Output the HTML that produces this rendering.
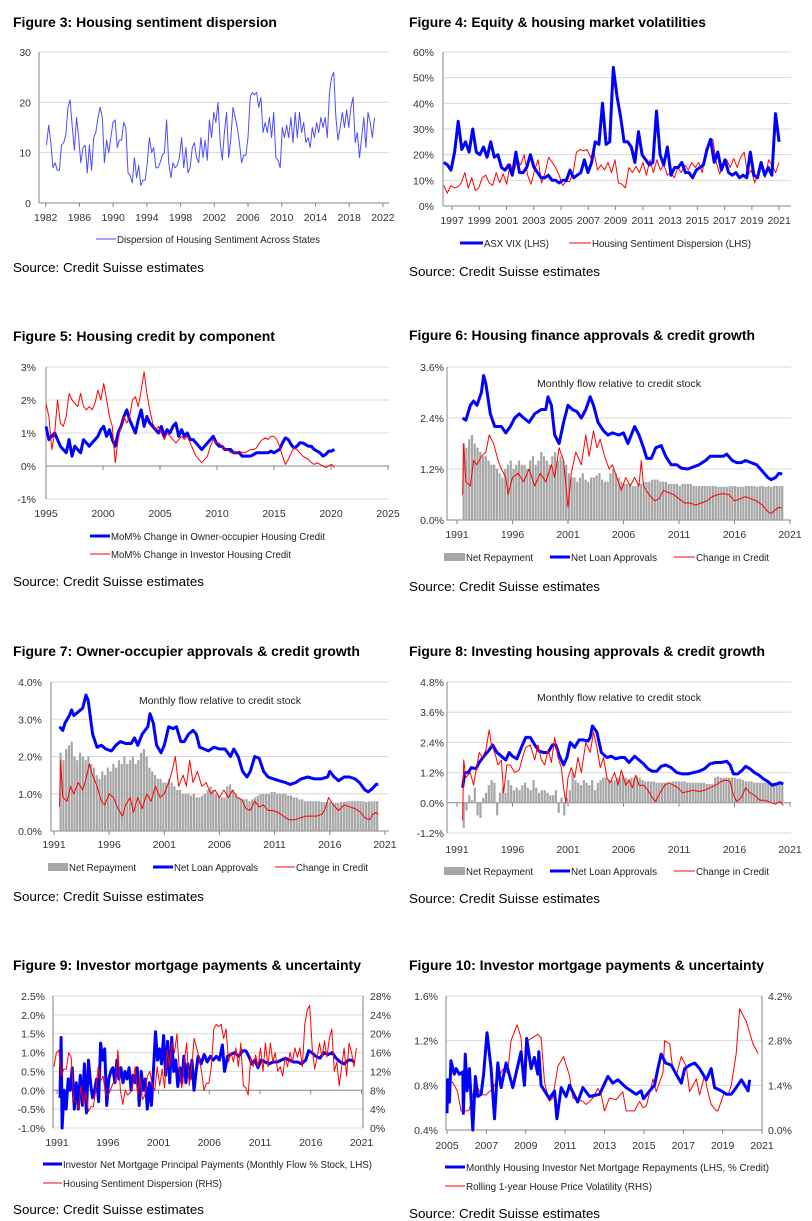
<!DOCTYPE html>
<html><head><meta charset="utf-8">
<style>
html,body{margin:0;padding:0;background:#fff;}
svg{display:block;font-family:"Liberation Sans",Arial,sans-serif;}
.t{font-weight:bold;font-size:14px;fill:#000;}
.s{font-size:13px;fill:#000;}
.lg{font-size:10.5px;fill:#222;}
.an{font-size:10.5px;fill:#222;}
.ax{font-size:10.5px;fill:#333;}
</style></head>
<body>
<svg id="page" width="812" height="1221" viewBox="0 0 812 1221" xmlns="http://www.w3.org/2000/svg">
<rect width="812" height="1221" fill="#fff"/>
<!-- titles -->
<text class="t" x="13" y="27" textLength="264" lengthAdjust="spacingAndGlyphs">Figure 3: Housing sentiment dispersion</text>
<text class="t" x="409" y="27" textLength="297" lengthAdjust="spacingAndGlyphs">Figure 4: Equity &amp; housing market volatilities</text>
<text class="t" x="13" y="341" textLength="262" lengthAdjust="spacingAndGlyphs">Figure 5: Housing credit by component</text>
<text class="t" x="409" y="340" textLength="346" lengthAdjust="spacingAndGlyphs">Figure 6: Housing finance approvals &amp; credit growth</text>
<text class="t" x="13" y="656" textLength="347" lengthAdjust="spacingAndGlyphs">Figure 7: Owner-occupier approvals &amp; credit growth</text>
<text class="t" x="409" y="656" textLength="356" lengthAdjust="spacingAndGlyphs">Figure 8: Investing housing approvals &amp; credit growth</text>
<text class="t" x="13" y="970" textLength="348" lengthAdjust="spacingAndGlyphs">Figure 9: Investor mortgage payments &amp; uncertainty</text>
<text class="t" x="409" y="970" textLength="355" lengthAdjust="spacingAndGlyphs">Figure 10: Investor mortgage payments &amp; uncertainty</text>
<!-- sources -->
<text class="s" x="13" y="272" textLength="191" lengthAdjust="spacingAndGlyphs">Source: Credit Suisse estimates</text>
<text class="s" x="409" y="276" textLength="191" lengthAdjust="spacingAndGlyphs">Source: Credit Suisse estimates</text>
<text class="s" x="13" y="586" textLength="191" lengthAdjust="spacingAndGlyphs">Source: Credit Suisse estimates</text>
<text class="s" x="409" y="591" textLength="191" lengthAdjust="spacingAndGlyphs">Source: Credit Suisse estimates</text>
<text class="s" x="13" y="901" textLength="191" lengthAdjust="spacingAndGlyphs">Source: Credit Suisse estimates</text>
<text class="s" x="409" y="903" textLength="191" lengthAdjust="spacingAndGlyphs">Source: Credit Suisse estimates</text>
<text class="s" x="13" y="1214" textLength="191" lengthAdjust="spacingAndGlyphs">Source: Credit Suisse estimates</text>
<text class="s" x="409" y="1218" textLength="191" lengthAdjust="spacingAndGlyphs">Source: Credit Suisse estimates</text>
<!-- annotations -->
<text class="an" x="537" y="387" textLength="164" lengthAdjust="spacingAndGlyphs">Monthly flow relative to credit stock</text>
<text class="an" x="139" y="704" textLength="162" lengthAdjust="spacingAndGlyphs">Monthly flow relative to credit stock</text>
<text class="an" x="537" y="701" textLength="164" lengthAdjust="spacingAndGlyphs">Monthly flow relative to credit stock</text>
<!-- legends -->
<g>
<line x1="96" y1="239" x2="116" y2="239" stroke="#4d4dff" stroke-width="1"/>
<text class="lg" x="117" y="243" textLength="203" lengthAdjust="spacingAndGlyphs">Dispersion of Housing Sentiment Across States</text></g>
<g>
<line x1="460" y1="243" x2="483" y2="243" stroke="#0000ff" stroke-width="3"/>
<text class="lg" x="484" y="247" textLength="65" lengthAdjust="spacingAndGlyphs">ASX VIX (LHS)</text>
<line x1="569" y1="243" x2="591" y2="243" stroke="#ff0000" stroke-width="1"/>
<text class="lg" x="592" y="247" textLength="159" lengthAdjust="spacingAndGlyphs">Housing Sentiment Dispersion (LHS)</text></g>
<g>
<line x1="90" y1="536" x2="110" y2="536" stroke="#0000ff" stroke-width="3"/>
<text class="lg" x="111" y="540" textLength="214" lengthAdjust="spacingAndGlyphs">MoM% Change in Owner-occupier Housing Credit</text>
<line x1="90" y1="554" x2="110" y2="554" stroke="#ff0000" stroke-width="1"/>
<text class="lg" x="111" y="558" textLength="180" lengthAdjust="spacingAndGlyphs">MoM% Change in Investor Housing Credit</text></g>
<g>
<rect x="444" y="553" width="21" height="8" fill="#a6a6a6"/>
<text class="lg" x="466" y="561" textLength="67" lengthAdjust="spacingAndGlyphs">Net Repayment</text>
<line x1="550" y1="557" x2="570" y2="557" stroke="#0000ff" stroke-width="3"/>
<text class="lg" x="571" y="561" textLength="86" lengthAdjust="spacingAndGlyphs">Net Loan Approvals</text>
<line x1="674" y1="557" x2="695" y2="557" stroke="#ff0000" stroke-width="1"/>
<text class="lg" x="696" y="561" textLength="73" lengthAdjust="spacingAndGlyphs">Change in Credit</text></g>
<g>
<rect x="48" y="863" width="20" height="8" fill="#a6a6a6"/>
<text class="lg" x="69" y="871" textLength="67" lengthAdjust="spacingAndGlyphs">Net Repayment</text>
<line x1="153" y1="867" x2="173" y2="867" stroke="#0000ff" stroke-width="3"/>
<text class="lg" x="174" y="871" textLength="84" lengthAdjust="spacingAndGlyphs">Net Loan Approvals</text>
<line x1="275" y1="867" x2="295" y2="867" stroke="#ff0000" stroke-width="1"/>
<text class="lg" x="296" y="871" textLength="72" lengthAdjust="spacingAndGlyphs">Change in Credit</text></g>
<g>
<rect x="444" y="867" width="21" height="8" fill="#a6a6a6"/>
<text class="lg" x="466" y="875" textLength="67" lengthAdjust="spacingAndGlyphs">Net Repayment</text>
<line x1="550" y1="871" x2="570" y2="871" stroke="#0000ff" stroke-width="3"/>
<text class="lg" x="571" y="875" textLength="86" lengthAdjust="spacingAndGlyphs">Net Loan Approvals</text>
<line x1="674" y1="871" x2="695" y2="871" stroke="#ff0000" stroke-width="1"/>
<text class="lg" x="696" y="875" textLength="73" lengthAdjust="spacingAndGlyphs">Change in Credit</text></g>
<g>
<line x1="43" y1="1164" x2="62" y2="1164" stroke="#0000ff" stroke-width="3"/>
<text class="lg" x="63" y="1168" textLength="309" lengthAdjust="spacingAndGlyphs">Investor Net Mortgage Principal Payments (Monthly Flow % Stock, LHS)</text>
<line x1="43" y1="1183" x2="62" y2="1183" stroke="#ff0000" stroke-width="1"/>
<text class="lg" x="63" y="1187" textLength="159" lengthAdjust="spacingAndGlyphs">Housing Sentiment Dispersion (RHS)</text></g>
<g>
<line x1="445" y1="1167" x2="465" y2="1167" stroke="#0000ff" stroke-width="3"/>
<text class="lg" x="466" y="1171" textLength="303" lengthAdjust="spacingAndGlyphs">Monthly Housing Investor Net Mortgage Repayments (LHS, % Credit)</text>
<line x1="445" y1="1186" x2="465" y2="1186" stroke="#ff0000" stroke-width="1"/>
<text class="lg" x="466" y="1190" textLength="186" lengthAdjust="spacingAndGlyphs">Rolling 1-year House Price Volatility (RHS)</text></g>
</svg>
<script>
// ---------- DATA ----------
const dispersion = [11.5,15.5,12,7, 8,6.5,6.5,11.5, 12,13.5,19,20.5, 15,10.5,17,13, 8,11,11.5,6, 11.5,6.5,13,14, 17,19,17,8, 12.5,10,13,16, 16.5,11,12.5,12.5, 16,15,6,5.5, 4,9,5,7.5, 3.5,4.5,4.5,8, 13,10,11,7, 7,8,9.5,10, 16.5,8,5,8, 7,7.5,9,13, 7,11,6,7, 11,12,9,8, 13,9,12.5,8.5, 16.5,13,18,16, 20,12,8.5,14, 18,9,13,19, 17,15,12,8, 9.5,9.5,13,21, 22,21.5,22,19, 21,14,16,14, 17,13,18,9, 8.5,7,15,13, 15.5,13,17,12, 18,13,18,14, 16,12,13,11, 15,13,16,14, 17,15,17,13, 22,25,26,17, 12.5,15,18,15, 18.5,15,19,21, 12,14,9,13, 17,11,18,16, 13,17];
const asxVix = [17,16,14,21, 33,22,25,21, 30,21,20,23, 19,25,19,20, 15,14,16,12, 21,13,13,15, 20,15,13,11, 11,12,10,10, 9,10,10,14, 11,12,13,18, 13,17,25,24, 40,24,25,54, 43,35,25,25, 23,17,29,20, 18,16,17,37, 20,16,23,12, 15,15,17,13, 13,11,14,15, 16,22,26,17, 21,14,18,13, 12,13,11,12, 11,21,12,11, 17,12,15,12, 36,25];
const ownerCredit = [1.2,0.8,0.9,1.0, 0.8,0.6,0.5,0.4, 0.8,0.3,0.6,0.5, 0.4,0.8,0.7,0.6, 0.7,0.8,0.9,1.1, 1.2,0.9,1.1,0.8, 0.6,1.0,1.2,1.5, 1.7,1.4,1.2,1.0, 1.4,1.7,1.2,1.5, 1.3,1.2,1.1,1.0, 1.2,0.9,1.1,1.0, 1.2,1.3,0.9,1.1, 0.9,1.0,0.8,0.8, 0.7,0.6,0.5,0.6, 0.7,0.8,0.9,0.7, 0.6,0.6,0.5,0.5, 0.5,0.4,0.4,0.4, 0.3,0.3,0.3,0.3, 0.35,0.4,0.4,0.4, 0.4,0.4,0.45,0.4, 0.45,0.5,0.7,0.85, 0.8,0.65,0.55,0.6, 0.7,0.7,0.65,0.6, 0.6,0.5,0.45,0.4, 0.3,0.35,0.45,0.45, 0.5];
const investorCredit = [1.9,1.5,0.5,1.0, 2.0,1.3,1.2,1.5, 2.2,2.0,1.9,1.8, 2.2,1.8,1.7,1.8, 1.7,1.9,2.3,2.0, 2.5,2.0,1.5,1.2, 0.1,0.8,1.2,1.5, 1.3,1.5,2.0,2.1, 1.8,2.3,2.85,2.2, 1.7,1.3,1.1,1.2, 1.0,0.8,1.0,0.9, 0.8,0.7,0.8,0.9, 0.8,0.9,0.7,0.5, 0.3,0.2,0.1,0.2, 0.3,0.6,0.8,0.7, 0.7,0.6,0.5,0.5, 0.4,0.4,0.4,0.45, 0.4,0.4,0.45,0.5, 0.5,0.55,0.7,0.8, 0.85,0.8,0.9,0.9, 0.8,0.6,0.3,0.05, 0.2,0.4,0.55,0.5, 0.4,0.3,0.25,0.2, 0.1,0.05,0.1,0.05, 0.0,-0.05,0.0,0.05, -0.05];
const f6Approvals = [[1991.5,2.4],[1991.8,2.35],[1992.2,2.7],[1992.5,2.8],[1992.8,2.7],[1993.2,3.0],[1993.4,3.4],[1993.6,3.2],[1994.0,2.5],[1994.4,2.2],[1995.0,2.2],[1995.4,2.05],[1995.8,2.2],[1996.2,2.4],[1996.6,2.5],[1997.0,2.4],[1997.5,2.3],[1998.0,2.5],[1998.6,2.6],[1999.0,2.6],[1999.2,2.9],[1999.5,2.7],[1999.8,2.0],[2000.2,1.8],[2000.6,2.3],[2001.0,2.7],[2001.4,2.6],[2001.8,2.55],[2002.2,2.4],[2002.6,2.6],[2003.0,2.9],[2003.3,2.7],[2003.7,2.3],[2004.2,2.1],[2004.6,2.0],[2005.0,2.05],[2005.6,2.0],[2006.0,2.05],[2006.4,1.8],[2007.0,2.2],[2007.4,2.0],[2007.8,1.7],[2008.1,1.45],[2008.5,1.45],[2008.9,1.7],[2009.4,1.75],[2009.8,1.5],[2010.3,1.3],[2010.8,1.3],[2011.2,1.22],[2011.8,1.2],[2012.3,1.25],[2012.8,1.3],[2013.4,1.4],[2013.8,1.5],[2014.4,1.5],[2015.0,1.5],[2015.3,1.55],[2015.8,1.4],[2016.2,1.35],[2016.6,1.35],[2017.0,1.4],[2017.5,1.35],[2018.0,1.3],[2018.5,1.15],[2019.0,1.0],[2019.3,0.95],[2019.7,1.0],[2020.0,1.1],[2020.3,1.08]];
const f6Credit = [[1991.5,0.6],[1991.6,1.8],[1991.8,0.9],[1992.2,0.8],[1992.5,1.4],[1992.8,1.3],[1993.2,1.5],[1993.6,1.6],[1993.9,2.0],[1994.3,1.8],[1994.7,1.4],[1995.0,1.2],[1995.4,1.0],[1995.6,0.6],[1996.0,1.0],[1996.5,1.1],[1997.0,0.9],[1997.5,1.2],[1998.0,0.8],[1998.5,1.1],[1999.0,0.9],[1999.5,1.3],[1999.8,1.0],[2000.2,1.7],[2000.6,1.4],[2001.0,0.3],[2001.3,1.1],[2001.7,1.6],[2002.2,1.3],[2002.6,2.0],[2002.9,1.5],[2003.3,2.1],[2003.6,1.7],[2003.9,1.9],[2004.3,1.5],[2004.7,1.2],[2005.0,1.3],[2005.4,1.0],[2005.8,0.7],[2006.2,1.0],[2006.6,0.8],[2007.0,1.0],[2007.4,0.8],[2007.6,1.4],[2007.8,0.8],[2008.3,0.6],[2008.8,0.45],[2009.2,0.5],[2009.6,0.7],[2010.0,0.65],[2010.5,0.6],[2011.0,0.5],[2011.5,0.4],[2012.0,0.4],[2012.5,0.35],[2013.0,0.4],[2013.5,0.45],[2014.0,0.55],[2014.5,0.6],[2015.0,0.62],[2015.5,0.6],[2016.0,0.45],[2016.5,0.5],[2017.0,0.55],[2017.5,0.5],[2018.0,0.45],[2018.5,0.35],[2019.0,0.2],[2019.3,0.15],[2019.7,0.25],[2020.0,0.3],[2020.3,0.28]];
const f6Repay = [1.8,1.7,1.9,2.0,1.8,1.7,1.6,1.5,1.5,1.4,1.3,1.3,1.2,1.1,1.0,1.2,1.3,1.4,1.2,1.3,1.4,1.3,1.3,1.2,1.4,1.5,1.3,1.4,1.6,1.5,1.4,1.3,1.5,1.6,1.4,1.5,1.4,1.3,1.1,1.0,1.0,0.9,1.0,1.1,0.95,0.9,1.0,1.0,1.05,1.1,0.95,0.9,0.9,1.1,1.2,1.1,1.0,0.9,0.85,0.85,0.85,0.8,0.8,0.85,0.85,0.9,0.9,0.9,0.95,0.95,0.95,0.9,0.9,0.9,0.85,0.85,0.85,0.85,0.8,0.85,0.85,0.85,0.85,0.8,0.8,0.8,0.8,0.8,0.8,0.8,0.8,0.8,0.78,0.78,0.78,0.78,0.8,0.8,0.8,0.78,0.78,0.78,0.8,0.8,0.8,0.8,0.78,0.8,0.8,0.78,0.8,0.78,0.8,0.8,0.8,0.8];
const f7Approvals = [[1991.5,2.8],[1991.8,2.7],[1992.0,2.9],[1992.4,3.1],[1992.6,3.25],[1992.8,3.1],[1993.2,3.2],[1993.6,3.3],[1993.9,3.65],[1994.1,3.5],[1994.5,2.6],[1994.9,2.25],[1995.3,2.3],[1995.7,2.2],[1996.2,2.15],[1996.6,2.3],[1997.0,2.4],[1997.5,2.35],[1998.0,2.35],[1998.3,2.5],[1998.6,2.3],[1999.0,2.6],[1999.5,2.8],[1999.7,3.15],[2000.0,2.9],[2000.3,2.3],[2000.7,2.1],[2001.0,2.3],[2001.4,2.8],[2001.8,2.75],[2002.1,2.8],[2002.5,2.4],[2002.8,2.4],[2003.2,2.6],[2003.6,2.7],[2003.9,2.6],[2004.2,2.25],[2004.6,2.2],[2005.0,2.15],[2005.5,2.25],[2006.0,2.2],[2006.5,2.2],[2007.0,2.0],[2007.3,2.2],[2007.7,2.0],[2008.1,1.6],[2008.5,1.45],[2008.8,1.6],[2009.2,2.0],[2009.6,1.95],[2010.0,1.6],[2010.4,1.45],[2010.9,1.4],[2011.4,1.35],[2012.0,1.3],[2012.4,1.25],[2012.9,1.3],[2013.4,1.4],[2014.0,1.45],[2014.6,1.4],[2015.2,1.4],[2015.8,1.45],[2016.0,1.6],[2016.4,1.45],[2016.8,1.35],[2017.3,1.45],[2017.8,1.45],[2018.3,1.4],[2018.7,1.3],[2019.2,1.1],[2019.5,1.05],[2019.9,1.15],[2020.2,1.25],[2020.4,1.25]];
const f7Credit = [[1991.5,0.65],[1991.6,1.9],[1991.8,0.9],[1992.2,0.8],[1992.5,1.2],[1992.8,1.0],[1993.2,1.3],[1993.6,1.1],[1993.9,1.4],[1994.2,1.8],[1994.5,1.5],[1994.9,1.2],[1995.3,0.8],[1995.6,0.7],[1996.0,1.0],[1996.4,0.9],[1996.8,0.6],[1997.2,0.4],[1997.5,0.7],[1997.9,0.9],[1998.2,0.5],[1998.6,0.9],[1999.0,0.6],[1999.4,1.0],[1999.8,0.8],[2000.2,1.2],[2000.6,0.9],[2001.0,1.0],[2001.4,1.3],[2001.7,1.6],[2002.0,2.0],[2002.3,1.2],[2002.7,1.5],[2003.0,1.2],[2003.3,1.9],[2003.6,1.3],[2004.0,1.6],[2004.4,1.2],[2004.8,1.3],[2005.2,1.0],[2005.6,1.1],[2006.0,0.9],[2006.4,1.1],[2006.8,0.9],[2007.2,1.1],[2007.6,0.9],[2008.0,0.85],[2008.4,0.6],[2008.8,0.55],[2009.2,0.8],[2009.6,0.65],[2010.0,0.7],[2010.4,0.55],[2010.8,0.55],[2011.3,0.5],[2011.8,0.4],[2012.3,0.3],[2012.8,0.3],[2013.3,0.35],[2013.8,0.4],[2014.3,0.4],[2014.8,0.4],[2015.3,0.45],[2015.6,0.6],[2015.9,0.9],[2016.3,0.7],[2016.8,0.55],[2017.3,0.7],[2017.8,0.65],[2018.3,0.6],[2018.8,0.5],[2019.2,0.35],[2019.6,0.3],[2019.9,0.45],[2020.2,0.5],[2020.4,0.45]];
const f7Repay = [2.1,1.9,2.2,2.3,2.4,2.0,1.9,2.1,2.0,1.9,2.0,1.8,1.7,1.5,1.4,1.6,1.5,1.7,1.6,1.8,1.7,1.9,1.8,2.0,1.8,1.9,2.0,1.8,1.9,2.1,2.2,2.0,1.7,1.6,1.5,1.4,1.4,1.3,1.3,1.4,1.3,1.2,1.1,1.1,1.0,1.0,1.0,0.95,1.0,0.9,0.9,0.95,1.0,1.1,1.2,1.1,1.0,0.95,0.9,0.9,1.2,1.25,1.1,1.0,0.9,0.85,0.85,0.85,0.8,0.85,0.9,0.95,1.0,1.0,1.0,1.0,1.05,1.05,1.0,1.0,1.0,1.0,0.95,0.95,0.9,0.9,0.85,0.85,0.8,0.8,0.8,0.8,0.8,0.8,0.78,0.78,0.78,0.78,0.76,0.76,0.76,0.78,0.78,0.8,0.8,0.8,0.8,0.8,0.8,0.8,0.78,0.8,0.8,0.8,0.8];
const f8Approvals = [[1991.5,0.6],[1991.7,1.2],[1992.0,1.2],[1992.3,1.4],[1992.7,1.35],[1993.0,1.6],[1993.5,1.9],[1993.9,2.1],[1994.2,2.3],[1994.6,2.0],[1995.0,1.85],[1995.4,1.7],[1995.7,2.0],[1996.0,1.85],[1996.4,1.75],[1996.8,2.2],[1997.2,2.6],[1997.6,2.6],[1998.0,2.3],[1998.4,2.05],[1998.8,2.0],[1999.2,2.0],[1999.6,2.3],[1999.9,2.3],[2000.2,1.9],[2000.6,1.5],[2000.9,1.8],[2001.2,2.4],[2001.6,2.2],[2002.0,2.5],[2002.4,2.5],[2002.8,2.45],[2003.0,2.6],[2003.2,3.05],[2003.6,2.8],[2004.0,2.0],[2004.5,1.8],[2004.9,1.85],[2005.3,1.75],[2005.7,1.8],[2006.1,1.8],[2006.5,1.6],[2007.0,1.85],[2007.4,1.7],[2007.8,1.55],[2008.2,1.35],[2008.6,1.25],[2009.0,1.25],[2009.4,1.45],[2009.8,1.5],[2010.3,1.4],[2010.8,1.2],[2011.3,1.15],[2011.8,1.15],[2012.3,1.2],[2012.8,1.25],[2013.3,1.35],[2013.8,1.55],[2014.3,1.6],[2014.8,1.6],[2015.3,1.65],[2015.6,1.5],[2015.9,1.15],[2016.3,1.15],[2016.7,1.3],[2017.0,1.45],[2017.4,1.35],[2017.8,1.2],[2018.2,1.1],[2018.6,0.95],[2019.0,0.85],[2019.4,0.7],[2019.8,0.75],[2020.1,0.8],[2020.4,0.75]];
const f8Credit = [[1991.5,-0.7],[1991.6,1.7],[1991.8,1.0],[1992.2,1.2],[1992.5,0.7],[1992.8,1.5],[1993.0,2.0],[1993.3,1.8],[1993.6,2.1],[1993.9,2.9],[1994.1,2.3],[1994.4,2.0],[1994.7,1.5],[1995.0,1.7],[1995.2,0.4],[1995.5,1.5],[1995.8,1.5],[1996.2,1.2],[1996.6,1.3],[1996.9,1.8],[1997.2,2.2],[1997.6,2.3],[1998.0,1.7],[1998.3,2.3],[1998.6,1.7],[1998.9,1.5],[1999.2,2.1],[1999.5,1.6],[1999.8,2.6],[2000.1,1.8],[2000.4,1.4],[2000.6,0.6],[2000.8,0.0],[2001.0,1.0],[2001.3,1.4],[2001.6,1.0],[2001.9,1.8],[2002.2,1.2],[2002.6,2.4],[2003.0,2.0],[2003.3,2.8],[2003.6,2.2],[2003.9,1.4],[2004.2,1.8],[2004.5,1.0],[2004.8,0.8],[2005.2,1.2],[2005.5,0.7],[2005.8,1.3],[2006.2,0.7],[2006.5,0.9],[2006.8,0.6],[2007.1,1.1],[2007.4,0.7],[2007.8,0.7],[2008.2,0.5],[2008.6,0.2],[2008.9,0.05],[2009.3,0.4],[2009.7,0.7],[2010.1,0.8],[2010.5,0.7],[2010.9,0.6],[2011.3,0.4],[2011.8,0.45],[2012.3,0.5],[2012.8,0.45],[2013.3,0.5],[2013.8,0.6],[2014.3,0.7],[2014.8,0.85],[2015.2,0.9],[2015.6,0.85],[2015.9,0.3],[2016.2,0.05],[2016.6,0.2],[2017.0,0.6],[2017.4,0.4],[2017.8,0.3],[2018.3,0.1],[2018.8,0.1],[2019.3,0.0],[2019.7,-0.05],[2020.1,0.05],[2020.4,-0.1]];
const f8Repay = [-1.0,-0.3,0.3,0.1,0.6,-0.5,-0.6,0.2,0.4,0.7,0.9,0.8,-0.5,0.4,0.6,0.4,0.9,0.7,0.5,0.6,0.5,0.7,0.8,0.6,0.5,0.9,0.6,0.4,0.5,0.5,0.4,0.3,0.3,0.5,-0.4,0.2,-0.5,0.2,0.5,1.2,0.9,0.8,0.7,0.9,0.8,0.7,0.9,0.5,0.8,0.9,1.0,1.0,0.9,0.9,0.9,1.0,1.0,1.1,1.0,0.95,1.0,1.0,1.05,1.0,0.9,0.85,0.85,0.85,0.85,0.8,0.8,0.8,0.8,0.8,0.8,0.85,0.85,0.85,0.85,0.85,0.8,0.8,0.8,0.8,0.8,0.8,0.8,0.75,0.75,0.75,1.0,1.05,1.0,1.0,1.0,1.0,1.0,1.0,0.95,0.95,0.9,0.85,0.85,0.85,0.8,0.8,0.8,0.8,0.8,0.8,0.8,0.8,0.8,0.8,0.8];
const f9Payments = [[1991.3,-0.2],[1991.4,1.4],[1991.5,-1.0],[1991.7,0.0],[1991.9,-0.5],[1992.1,0.3],[1992.3,0.0],[1992.5,0.6],[1992.7,-0.5],[1992.9,0.2],[1993.1,-0.5],[1993.3,0.4],[1993.5,-0.4],[1993.7,0.7],[1993.9,-0.6],[1994.1,0.8],[1994.3,0.2],[1994.5,-0.2],[1994.7,0.0],[1994.9,0.3],[1995.1,-0.3],[1995.3,1.25],[1995.5,0.8],[1995.7,1.1],[1995.9,-0.4],[1996.1,0.3],[1996.3,0.5],[1996.5,0.6],[1996.7,0.2],[1996.9,0.8],[1997.1,0.3],[1997.3,0.6],[1997.5,0.2],[1997.7,0.5],[1997.9,0.3],[1998.1,0.6],[1998.3,0.0],[1998.5,0.4],[1998.7,0.2],[1998.9,0.6],[1999.1,-0.4],[1999.3,0.5],[1999.5,0.0],[1999.7,0.3],[1999.9,-0.5],[2000.1,0.2],[2000.3,-0.4],[2000.5,0.5],[2000.7,1.55],[2000.9,0.8],[2001.1,1.1],[2001.3,0.7],[2001.5,1.45],[2001.7,0.4],[2001.9,1.3],[2002.1,0.2],[2002.3,1.4],[2002.5,0.5],[2002.7,0.8],[2002.9,0.1],[2003.1,0.6],[2003.3,0.2],[2003.5,0.9],[2003.7,0.2],[2003.9,0.7],[2004.1,0.3],[2004.3,0.8],[2004.5,0.0],[2004.7,0.5],[2004.9,0.9],[2005.2,0.7],[2005.5,0.95],[2005.8,0.75],[2006.1,0.9],[2006.4,0.8],[2006.7,0.9],[2007.0,0.8],[2007.3,1.2],[2007.5,0.5],[2007.8,0.9],[2008.1,0.95],[2008.5,1.0],[2008.9,0.9],[2009.3,1.05],[2009.6,1.05],[2009.9,0.9],[2010.2,0.7],[2010.5,0.8],[2010.8,0.6],[2011.1,0.8],[2011.5,0.75],[2011.9,0.7],[2012.3,0.75],[2012.7,0.75],[2013.1,0.8],[2013.5,0.85],[2013.9,0.8],[2014.3,0.75],[2014.7,0.75],[2015.1,0.7],[2015.5,0.8],[2015.8,1.05],[2016.1,1.0],[2016.5,0.9],[2016.9,0.85],[2017.3,1.0],[2017.7,0.95],[2018.1,1.0],[2018.5,0.85],[2018.9,0.75],[2019.3,0.7],[2019.7,0.8],[2020.0,0.8],[2020.3,0.75]];
const f10Repay = [[2005.0,0.55],[2005.03,0.85],[2005.12,0.65],[2005.2,1.02],[2005.37,0.9],[2005.46,0.95],[2005.63,0.9],[2005.8,0.92],[2005.83,0.55],[2005.93,1.08],[2006.02,0.75],[2006.14,0.95],[2006.31,0.4],[2006.44,0.88],[2006.56,0.7],[2006.73,0.72],[2006.86,0.9],[2007.03,1.27],[2007.24,0.95],[2007.41,0.5],[2007.58,1.0],[2007.75,0.78],[2008.0,1.0],[2008.34,0.78],[2008.76,1.1],[2008.93,0.8],[2009.05,1.22],[2009.27,0.95],[2009.44,1.05],[2009.61,0.9],[2009.66,1.1],[2009.78,0.8],[2010.2,0.68],[2010.46,0.75],[2010.58,0.5],[2010.8,0.78],[2011.05,0.7],[2011.22,0.8],[2011.64,0.65],[2011.9,0.78],[2012.24,0.7],[2012.75,0.72],[2013.17,0.88],[2013.42,0.82],[2013.68,0.85],[2014.1,0.78],[2014.61,0.72],[2014.86,0.75],[2014.98,0.68],[2015.29,0.75],[2015.54,0.8],[2015.71,0.95],[2015.88,1.08],[2016.1,1.0],[2016.39,0.98],[2016.64,0.9],[2016.9,0.82],[2017.07,0.95],[2017.32,0.98],[2017.58,1.0],[2017.83,0.95],[2018.17,0.85],[2018.42,0.95],[2018.59,0.78],[2018.93,0.75],[2019.19,0.72],[2019.44,0.72],[2019.69,0.78],[2019.95,0.85],[2020.12,0.8],[2020.29,0.75],[2020.37,0.85]];
const f10Vol = [[2005.0,1.4],[2005.29,1.5],[2005.54,1.2],[2005.71,0.6],[2006.05,0.6],[2006.14,0.65],[2006.39,1.3],[2006.51,1.4],[2006.73,1.1],[2006.98,1.1],[2007.32,1.3],[2007.83,1.9],[2008.08,1.8],[2008.25,2.8],[2008.56,3.3],[2008.76,2.9],[2008.88,1.8],[2008.98,1.4],[2009.1,2.8],[2009.61,3.0],[2009.78,2.9],[2009.95,1.5],[2010.2,0.9],[2010.37,1.0],[2010.63,2.0],[2010.92,2.3],[2011.22,1.7],[2011.39,1.0],[2011.9,0.9],[2012.07,0.8],[2012.41,1.0],[2012.66,1.3],[2012.83,1.1],[2013.0,0.6],[2013.25,1.0],[2013.59,0.95],[2013.93,1.2],[2014.1,0.6],[2014.53,0.6],[2014.78,0.9],[2014.95,0.7],[2015.12,0.75],[2015.46,1.6],[2015.63,1.2],[2015.97,1.8],[2016.05,2.8],[2016.31,2.7],[2016.47,1.9],[2016.64,1.7],[2016.9,2.3],[2017.15,2.0],[2017.32,1.2],[2017.66,1.6],[2017.83,1.1],[2018.08,1.7],[2018.25,1.2],[2018.42,0.8],[2018.68,0.6],[2018.76,0.6],[2019.1,1.2],[2019.27,1.1],[2019.44,1.4],[2019.69,2.4],[2019.86,3.8],[2020.2,3.4],[2020.54,2.7],[2020.8,2.4]];
const f3Ticks=[0,10,20,30], f3Years=[1982,1986,1990,1994,1998,2002,2006,2010,2014,2018,2022];
const f4Ticks=[0,10,20,30,40,50,60], f4Years=[1997,1999,2001,2003,2005,2007,2009,2011,2013,2015,2017,2019,2021];
const f5Ticks=[-1,0,1,2,3], f5Years=[1995,2000,2005,2010,2015,2020,2025];
const f6Ticks=[0,1.2,2.4,3.6], f78Years=[1991,1996,2001,2006,2011,2016,2021];
const f7Ticks=[0,1,2,3,4], f8Ticks=[-1.2,0,1.2,2.4,3.6,4.8];
const f9Ticks=[-1,-0.5,0,0.5,1,1.5,2,2.5], f9RTicks=[0,4,8,12,16,20,24,28];
const f10Ticks=[0.4,0.8,1.2,1.6], f10RTicks=[0,1.4,2.8,4.2], f10Years=[2005,2007,2009,2011,2013,2015,2017,2019,2021];

// ---------- DRAWING ----------
const NS='http://www.w3.org/2000/svg';
const svg=document.getElementById('page');
function mk(tag, attrs, parent){const e=document.createElementNS(NS,tag);for(const k in attrs)e.setAttribute(k,attrs[k]);(parent||svg).appendChild(e);return e;}
function even(vals,start,end){const st=(end-start)/(vals.length-1);return vals.map((v,i)=>[start+i*st,v]);}

function axes(c){
  const g=mk('g',{});
  
  
  c.yS=v=>c.yBot-(v-c.yMin)/(c.yMax-c.yMin)*(c.yBot-c.yTop);
  c.xS=yr=>c.x0+(yr-c.yr0)*c.ppy;
  if(c.rMin!==undefined) c.yR=v=>c.yBot-(v-c.rMin)/(c.rMax-c.rMin)*(c.yBot-c.yTop);
  const axY=c.yS(c.axisVal);
  c.ticks.forEach(v=>{
    const y=c.yS(v);
    if(Math.abs(v-c.axisVal)>1e-9){
      const gl=mk('line',{x1:c.gridL,x2:c.gridR,y1:y,y2:y,stroke:'#d9d9d9','stroke-width':1},g);
      
      
    }
    const t=mk('text',{x:c.labX,y:y+4,'text-anchor':'end','class':'ax'},g);
    
    
    t.textContent=c.fmt(v);
  });
  if(c.rTicks){
    c.rTicks.forEach(v=>{
      const t=mk('text',{x:c.rLabX,y:c.yR(v)+4,'text-anchor':'start','class':'ax'},g);
      
      
      t.textContent=c.rFmt(v);
    });
    const rl=mk('line',{x1:c.gridR,x2:c.gridR,y1:c.yTop,y2:c.yBot,stroke:'#868686','stroke-width':1},g);
    
    
  }
  const vl=mk('line',{x1:c.gridL,x2:c.gridL,y1:c.yTop,y2:c.yBot,stroke:'#868686','stroke-width':1},g);
  
  
  const al=mk('line',{x1:c.gridL,x2:c.gridR,y1:axY,y2:axY,stroke:'#868686','stroke-width':1},g);
  
  
  c.years.forEach(yr=>{
    const x=c.xS(yr);
    const tk=mk('line',{x1:x,x2:x,y1:axY,y2:axY+4,stroke:'#868686','stroke-width':1},g);
    
    
    const t=mk('text',{x:x,y:c.xLabY,'text-anchor':'middle','class':'ax'},g);
    
    
    t.textContent=yr;
  });
  return c;
}
function line(c,pts,color,w,name,right){
  const yf=right?c.yR:c.yS;
  const d=pts.map((p,i)=>(i?'L':'M')+c.xS(p[0]).toFixed(1)+','+yf(p[1]).toFixed(1)).join('');
  const p=mk('path',{d:d,fill:'none',stroke:color,'stroke-width':w,'stroke-linejoin':'round'});
  
  
}
function bars(c,pts,name){
  const g=mk('g',{});
  
  
  const st=pts.length>1?(pts[1][0]-pts[0][0]):0.25;
  const w=Math.max(1,st*c.ppy*0.8);
  const y0=c.yS(0);
  pts.forEach(p=>{
    const y=c.yS(p[1]);
    const r=mk('rect',{x:c.xS(p[0])-w/2,y:Math.min(y,y0),width:w,height:Math.abs(y0-y),fill:'#a6a6a6'},g);
    
    
  });
}
const pct0=v=>v+'%', pct1=v=>v.toFixed(1)+'%';

// Figure 3
const c3=axes({name:'figure3',gridL:39,gridR:389,x0:45.7,yr0:1982,ppy:8.43,yTop:52,yBot:203,yMin:0,yMax:30,ticks:f3Ticks,fmt:v=>''+v,labX:31,years:f3Years,xLabY:221,axisVal:0});
line(c3,even(dispersion,1982.1,2021.0),'#4d4dff',1,'dispersion-line');
// Figure 4
const c4=axes({name:'figure4',gridL:443,gridR:791,x0:452,yr0:1997,ppy:13.63,yTop:52,yBot:206,yMin:0,yMax:60,ticks:f4Ticks,fmt:pct0,labX:434,years:f4Years,xLabY:224,axisVal:0});
line(c4,even(dispersion.slice(57),1996.4,2021.0),'#ff0000',1,'housing-dispersion-line');
line(c4,even(asxVix,1996.4,2021.0),'#0000ff',3,'asx-vix-line');
// Figure 5
const c5=axes({name:'figure5',gridL:46,gridR:389,x0:46,yr0:1995,ppy:11.4,yTop:367,yBot:499,yMin:-1,yMax:3,ticks:f5Ticks,fmt:pct0,labX:36,years:f5Years,xLabY:517,axisVal:0});
line(c5,even(ownerCredit,1995.0,2020.3),'#0000ff',3,'owner-occupier-credit-line');
line(c5,even(investorCredit,1995.0,2020.3),'#ff0000',1,'investor-credit-line');
// Figure 6
const c6=axes({name:'figure6',gridL:447,gridR:791,x0:457,yr0:1991,ppy:11.1,yTop:367,yBot:520,yMin:0,yMax:3.6,ticks:f6Ticks,fmt:pct1,labX:444,years:f78Years,xLabY:538,axisVal:0});
bars(c6,even(f6Repay,1991.6,2020.3),'net-repayment-bars');
line(c6,f6Approvals,'#0000ff',3,'net-loan-approvals-line');
line(c6,f6Credit,'#ff0000',1,'change-in-credit-line');
// Figure 7
const c7=axes({name:'figure7',gridL:51,gridR:389,x0:54,yr0:1991,ppy:11.03,yTop:682,yBot:831,yMin:0,yMax:4,ticks:f7Ticks,fmt:pct1,labX:42,years:f78Years,xLabY:848,axisVal:0});
bars(c7,even(f7Repay,1991.6,2020.3),'net-repayment-bars');
line(c7,f7Approvals,'#0000ff',3,'net-loan-approvals-line');
line(c7,f7Credit,'#ff0000',1,'change-in-credit-line');
// Figure 8
const c8=axes({name:'figure8',gridL:447,gridR:791,x0:457,yr0:1991,ppy:11.1,yTop:682,yBot:833,yMin:-1.2,yMax:4.8,ticks:f8Ticks,fmt:pct1,labX:444,years:f78Years,xLabY:853,axisVal:0});
bars(c8,even(f8Repay,1991.6,2020.3),'net-repayment-bars');
line(c8,f8Approvals,'#0000ff',3,'net-loan-approvals-line');
line(c8,f8Credit,'#ff0000',1,'change-in-credit-line');
// Figure 9
const c9=axes({name:'figure9',gridL:53,gridR:363,x0:57,yr0:1991,ppy:10.15,yTop:996,yBot:1128,yMin:-1,yMax:2.5,ticks:f9Ticks,fmt:pct1,labX:45,years:f78Years,xLabY:1146,axisVal:0,rMin:0,rMax:28,rTicks:f9RTicks,rFmt:pct0,rLabX:370});
line(c9,f9Payments,'#0000ff',3,'investor-payments-line');
line(c9,even(dispersion.slice(30),1990.7,2020.5),'#ff0000',1,'housing-dispersion-line',true);
// Figure 10
const c10=axes({name:'figure10',gridL:446,gridR:762,x0:447,yr0:2005,ppy:19.69,yTop:996,yBot:1130,yMin:0.4,yMax:1.6,ticks:f10Ticks,fmt:pct1,labX:438,years:f10Years,xLabY:1149,axisVal:0.4,rMin:0,rMax:4.2,rTicks:f10RTicks,rFmt:pct1,rLabX:768});
line(c10,f10Vol,'#ff0000',1,'house-price-volatility-line',true);
line(c10,f10Repay,'#0000ff',3,'investor-repayments-line');
</script>
</body></html>
